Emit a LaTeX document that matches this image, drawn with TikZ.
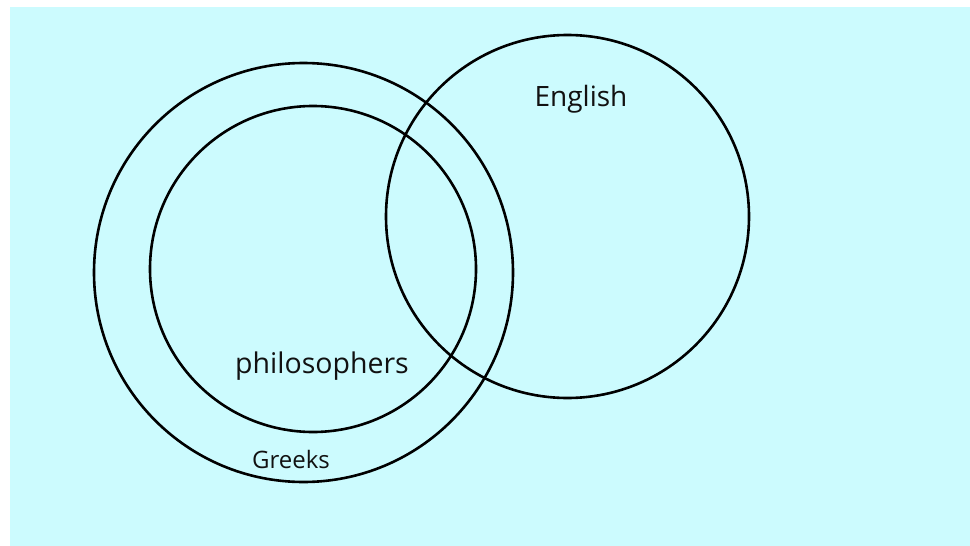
\documentclass[tikz,border=0pt]{standalone}
\usepackage{fontspec}
\setmainfont{Open Sans}
\usetikzlibrary{positioning}
\definecolor{Sky}{HTML}{CCFBFE}
\definecolor{Ink}{HTML}{111111}

\begin{document}
\begin{tikzpicture}[
    x=1pt, y=-1pt,
    ring/.style={draw=black, line width=2.6pt, circle, inner sep=0pt},
    label/.style={text=Ink, inner sep=0pt, anchor=center}
  ]
    \useasboundingbox (0,0) rectangle (970,546);
    \fill[Sky] (10,7) rectangle (970,546);

    \node[ring, minimum size=419pt] (greeks) at (303.5,272.5) {};
    \node[ring, minimum size=326pt] (philo) at (313,269) {};
    \node[ring, minimum size=363pt] (english) at (567.5,216.5) {};

    \node[label, font=\fontsize{28}{32}\selectfont] (englishtxt) at (581,99) {English};
    \node[label, font=\fontsize{28.5}{32}\selectfont] (philotxt) at (322,366) {philosophers};
    \node[label, font=\fontsize{24}{28}\selectfont] (greekstxt) at (291,459) {Greeks};
  \end{tikzpicture}
\end{document}
